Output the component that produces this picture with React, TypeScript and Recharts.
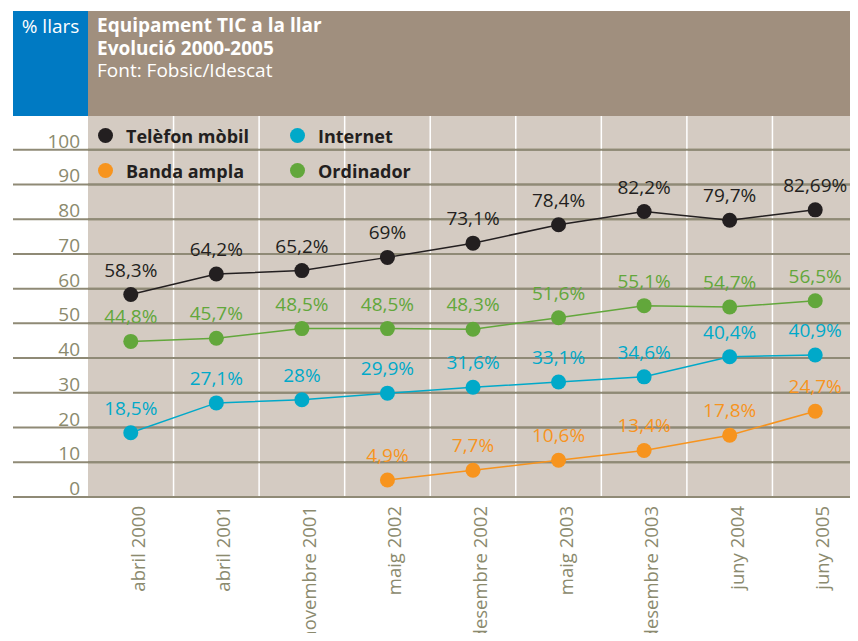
import { LineChart, Line, XAxis, YAxis, CartesianGrid, Legend, LabelList, ReferenceLine } from "recharts";

const periods = [
  "abril 2000",
  "abril 2001",
  "novembre 2001",
  "maig 2002",
  "desembre 2002",
  "maig 2003",
  "desembre 2003",
  "juny 2004",
  "juny 2005",
];
const mobil = [58.3, 64.2, 65.2, 69, 73.1, 78.4, 82.2, 79.7, 82.69];
const internet = [18.5, 27.1, 28, 29.9, 31.6, 33.1, 34.6, 40.4, 40.9];
const bandaAmpla = [null, null, null, 4.9, 7.7, 10.6, 13.4, 17.8, 24.7];
const ordinador = [44.8, 45.7, 48.5, 48.5, 48.3, 51.6, 55.1, 54.7, 56.5];
const yTicks = [0, 10, 20, 30, 40, 50, 60, 70, 80, 90, 100];
const bandEdges = [1, 2, 3, 4, 5, 6, 7, 8];
const legendOrder = ["Telèfon mòbil", "Internet", "Banda ampla", "Ordinador"];

const FONT = '"Open Sans", "Noto Sans", sans-serif';
const AXIS = "#8b8a6e";
const GRID = "#8f8a76";
const BEIGE = "#d4cbc2";

const colors = {
  mobil: "#231f20",
  internet: "#00a9c9",
  banda: "#f7941e",
  ordinador: "#62a73b",
};

// each period sits in the middle of its band
const data = periods.map((p, i) => ({
  period: p,
  pos: i + 0.5,
  mobil: mobil[i],
  internet: internet[i],
  banda: bandaAmpla[i],
  ordinador: ordinador[i],
}));
const xTicks = data.map((d) => d.pos);

const fmt = (v: number) => String(v).replace(".", ",") + "%";

function YTick({ x, y, payload }: any) {
  return (
    <g>
      <line x1={x - 75} x2={x} y1={y} y2={y} stroke={GRID} strokeWidth={2} />
      <text x={x - 8} y={y - 2} textAnchor="end" fill={AXIS} fontSize={19} fontFamily={FONT}>
        {payload.value}
      </text>
    </g>
  );
}

function XTick({ x, y, payload }: any) {
  const label = periods[Math.floor(payload.value)];
  return (
    <text
      transform={`translate(${x + 14}, ${y + 9}) rotate(-90)`}
      textAnchor="end"
      fill={AXIS}
      fontSize={18.5}
      fontFamily={FONT}
    >
      {label}
    </text>
  );
}

const pointLabel = (color: string) => (props: any) => {
  const { x, y, value } = props;
  if (value == null) return null;
  return (
    <text x={x} y={y - 18} textAnchor="middle" fill={color} fontSize={19} fontFamily={FONT}>
      {fmt(value)}
    </text>
  );
};

function LegendBox({ payload }: any) {
  const items = [...(payload || [])].sort(
    (a: any, b: any) => legendOrder.indexOf(a.value) - legendOrder.indexOf(b.value)
  );
  return (
    <div
      style={{
        display: "grid",
        gridTemplateColumns: "192px 192px",
        fontFamily: FONT,
        fontWeight: 700,
        fontSize: 18,
        color: "#231f20",
      }}
    >
      {items.map((p: any) => (
        <div key={p.value} style={{ display: "flex", alignItems: "center", height: 35 }}>
          <span
            style={{
              width: 15,
              height: 15,
              borderRadius: "50%",
              background: p.color,
              marginRight: 13,
              flex: "none",
            }}
          />
          {p.value}
        </div>
      ))}
    </div>
  );
}

export default function App() {
  return (
    <div style={{ position: "relative", width: 850, height: 633, marginBottom: -8 }}>
      <LineChart
        width={850}
        height={633}
        data={data}
        margin={{ top: 107, right: 0, bottom: 0, left: 0 }}
      >
        <CartesianGrid vertical={false} stroke={GRID} strokeWidth={2} fill={BEIGE} fillOpacity={1} />
        {bandEdges.map((e) => (
          <ReferenceLine key={e} x={e} stroke="#ffffff" strokeWidth={1.5} />
        ))}
        {yTicks.map((t) => (
          <ReferenceLine key={"h" + t} y={t} stroke={GRID} strokeWidth={2} />
        ))}
        <XAxis
          dataKey="pos"
          type="number"
          domain={[0, 9]}
          ticks={xTicks}
          interval={0}
          height={144}
          axisLine={false}
          tickLine={false}
          tickSize={0}
          tickMargin={0}
          tick={<XTick />}
        />
        <YAxis
          width={80}
          domain={[0, 110]}
          ticks={yTicks}
          interval={0}
          axisLine={false}
          tickLine={false}
          tickSize={0}
          tickMargin={0}
          tick={<YTick />}
        />
        <Legend
          layout="horizontal"
          verticalAlign="middle"
          align="center"
          wrapperStyle={{ left: 90, top: 110, width: 400 }}
          content={<LegendBox />}
        />
        <Line
          dataKey="mobil"
          name="Telèfon mòbil"
          stroke={colors.mobil}
          strokeWidth={1.5}
          dot={{ r: 7.5, fill: colors.mobil, strokeWidth: 0 }}
          isAnimationActive={false}
        >
          <LabelList dataKey="mobil" content={pointLabel(colors.mobil)} />
        </Line>
        <Line
          dataKey="internet"
          name="Internet"
          stroke={colors.internet}
          strokeWidth={1.5}
          dot={{ r: 7.5, fill: colors.internet, strokeWidth: 0 }}
          isAnimationActive={false}
        >
          <LabelList dataKey="internet" content={pointLabel(colors.internet)} />
        </Line>
        <Line
          dataKey="banda"
          name="Banda ampla"
          stroke={colors.banda}
          strokeWidth={1.5}
          dot={{ r: 7.5, fill: colors.banda, strokeWidth: 0 }}
          isAnimationActive={false}
        >
          <LabelList dataKey="banda" content={pointLabel(colors.banda)} />
        </Line>
        <Line
          dataKey="ordinador"
          name="Ordinador"
          stroke={colors.ordinador}
          strokeWidth={1.5}
          dot={{ r: 7.5, fill: colors.ordinador, strokeWidth: 0 }}
          isAnimationActive={false}
        >
          <LabelList dataKey="ordinador" content={pointLabel(colors.ordinador)} />
        </Line>
      </LineChart>

      <div
        style={{
          position: "absolute",
          left: 5,
          top: 3,
          width: 75,
          height: 105,
          background: "#007ac3",
          color: "#fff",
          fontFamily: FONT,
          fontSize: 19,
          lineHeight: "22.5px",
          paddingTop: 4,
          boxSizing: "border-box",
          textAlign: "center",
        }}
      >
        % llars
      </div>
      <div
        style={{
          position: "absolute",
          left: 80,
          top: 3,
          width: 770,
          height: 105,
          background: "#a08f7e",
          color: "#fff",
          fontFamily: FONT,
          fontSize: 19,
          lineHeight: "22.5px",
          padding: "3px 0 0 9px",
          boxSizing: "border-box",
        }}
      >
        <div style={{ fontWeight: 700 }}>Equipament TIC a la llar</div>
        <div style={{ fontWeight: 700 }}>Evolució 2000-2005</div>
        <div>Font: Fobsic/Idescat</div>
      </div>
    </div>
  );
}
